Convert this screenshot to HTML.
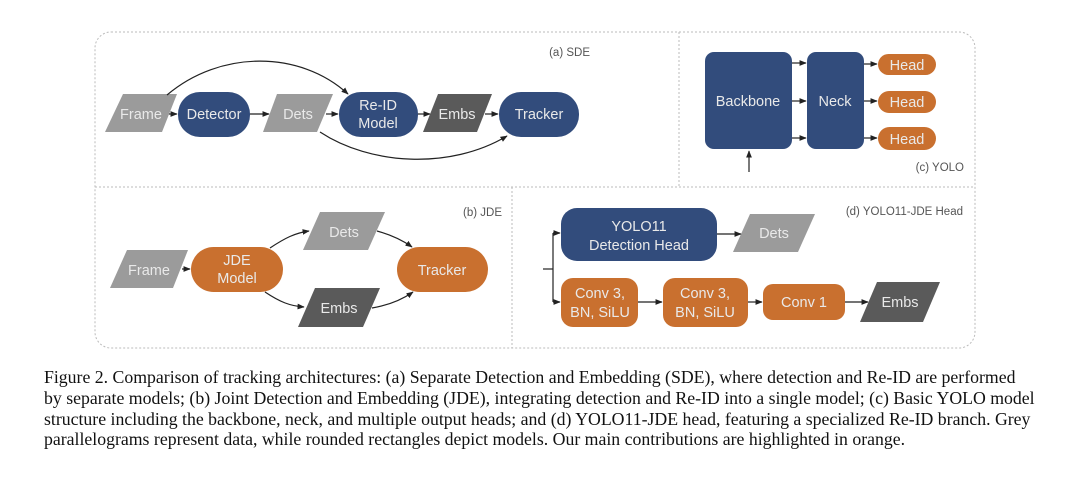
<!DOCTYPE html>
<html><head><meta charset="utf-8"><style>
body{margin:0;background:#fff;width:1080px;height:478px;overflow:hidden;position:relative}
svg{position:absolute;left:0;top:0}
.cap{position:absolute;left:44px;top:367px;width:1040px;font-family:"Liberation Serif",serif;font-size:17.75px;line-height:20.8px;color:#111;white-space:nowrap}
</style></head><body>
<svg width="1080" height="478" viewBox="0 0 1080 478" font-family="Liberation Sans, sans-serif">
<defs><marker id="a" viewBox="0 0 10 10" refX="9" refY="5" markerWidth="6" markerHeight="6" orient="auto"><path d="M0,1 L10,5 L0,9 z" fill="#222"/></marker></defs>
<g fill="none" stroke="#bbb" stroke-width="1" stroke-dasharray="2,2">
<rect x="95" y="32" width="880" height="316" rx="16"/>
<line x1="95" y1="187" x2="975" y2="187"/>
<line x1="679" y1="32" x2="679" y2="187"/>
<line x1="512" y1="187" x2="512" y2="348"/>
</g>
<g font-size="14.5" fill="#e9e9e9" text-anchor="middle">
<polygon points="123,94 177,94 162,132 105,132" fill="#9b9b9b"/><text x="141" y="119">Frame</text>
<rect x="178" y="92" width="72" height="45" rx="22" fill="#324c7c"/><text x="214" y="119">Detector</text>
<polygon points="277,94 333,94 317,132 263,132" fill="#9b9b9b"/><text x="298" y="119">Dets</text>
<rect x="339" y="92" width="79" height="45" rx="22" fill="#324c7c"/><text x="378" y="110">Re-ID</text><text x="378" y="128">Model</text>
<polygon points="438,94 492,94 477,132 423,132" fill="#5a5a5a"/><text x="457" y="119">Embs</text>
<rect x="499" y="92" width="80" height="45" rx="22" fill="#324c7c"/><text x="539" y="119">Tracker</text>
</g>
<g stroke="#222" stroke-width="1.2" fill="none" marker-end="url(#a)">
<line x1="169" y1="114" x2="177" y2="114"/>
<line x1="250" y1="114" x2="269" y2="114"/>
<line x1="326" y1="114" x2="338" y2="114"/>
<line x1="418" y1="114" x2="430" y2="114"/>
<line x1="485" y1="114" x2="498" y2="114"/>
<path d="M167,95 C220,50 300,50 348,94"/>
<path d="M320,132 C370,165 450,170 507,136"/>
</g>
<text x="590" y="56" font-size="11.5" fill="#555" text-anchor="end">(a) SDE</text>
<rect x="705" y="52" width="87" height="97" rx="9" fill="#324c7c"/>
<rect x="807" y="52" width="57" height="97" rx="9" fill="#324c7c"/>
<g fill="#c9702f"><rect x="878" y="54" width="58" height="21" rx="10.5"/><rect x="878" y="91" width="58" height="22" rx="11"/><rect x="878" y="127" width="58" height="23" rx="11.5"/></g>
<g font-size="14.5" fill="#e9e9e9" text-anchor="middle"><text x="748" y="106">Backbone</text><text x="835" y="106">Neck</text>
<text x="907" y="70">Head</text><text x="907" y="107">Head</text><text x="907" y="144">Head</text></g>
<g stroke="#222" stroke-width="1.2" fill="none" marker-end="url(#a)">
<line x1="792" y1="63" x2="806" y2="63"/><line x1="792" y1="101" x2="806" y2="101"/><line x1="792" y1="138" x2="806" y2="138"/>
<line x1="864" y1="64" x2="877" y2="64"/><line x1="864" y1="101" x2="877" y2="101"/><line x1="864" y1="138" x2="877" y2="138"/>
<line x1="749" y1="172" x2="749" y2="151"/>
</g>
<text x="964" y="171" font-size="11.5" fill="#555" text-anchor="end">(c) YOLO</text>
<g font-size="14.5" fill="#e9e9e9" text-anchor="middle">
<polygon points="127,250 188,250 173,288 110,288" fill="#9b9b9b"/><text x="149" y="275">Frame</text>
<rect x="191" y="247" width="92" height="45" rx="22.5" fill="#c9702f"/><text x="237" y="265">JDE</text><text x="237" y="283">Model</text>
<polygon points="320,212 385,212 368,250 303,250" fill="#9b9b9b"/><text x="344" y="237">Dets</text>
<polygon points="315,288 380,288 363,327 298,327" fill="#5a5a5a"/><text x="339" y="313">Embs</text>
<rect x="397" y="247" width="91" height="45" rx="22.5" fill="#c9702f"/><text x="442" y="275">Tracker</text>
</g>
<g stroke="#222" stroke-width="1.2" fill="none" marker-end="url(#a)">
<line x1="182" y1="269" x2="190" y2="269"/>
<path d="M270,248 C285,238 295,233 309,231"/>
<path d="M265,292 C280,302 290,306 304,307"/>
<path d="M377,231 C395,236 405,242 412,247"/>
<path d="M372,308 C390,305 403,299 413,292"/>
</g>
<text x="502" y="216" font-size="11.5" fill="#555" text-anchor="end">(b) JDE</text>
<g font-size="14.5" fill="#e9e9e9" text-anchor="middle">
<rect x="561" y="208" width="156" height="53" rx="16" fill="#324c7c"/><text x="639" y="231">YOLO11</text><text x="639" y="250">Detection Head</text>
<polygon points="750,214 815,214 798,252 733,252" fill="#9b9b9b"/><text x="774" y="238">Dets</text>
<rect x="561" y="278" width="77" height="49" rx="12" fill="#c9702f"/><text x="600" y="298">Conv 3,</text><text x="600" y="317">BN, SiLU</text>
<rect x="663" y="278" width="85" height="49" rx="12" fill="#c9702f"/><text x="705" y="298">Conv 3,</text><text x="705" y="317">BN, SiLU</text>
<rect x="763" y="284" width="82" height="36" rx="10" fill="#c9702f"/><text x="804" y="307">Conv 1</text>
<polygon points="877,282 940,282 923,322 860,322" fill="#5a5a5a"/><text x="900" y="307">Embs</text>
</g>
<g stroke="#222" stroke-width="1.2" fill="none">
<line x1="543" y1="269" x2="553" y2="269"/>
<line x1="553" y1="233" x2="553" y2="302"/>
<g marker-end="url(#a)">
<line x1="553" y1="233" x2="560" y2="233"/>
<line x1="553" y1="302" x2="560" y2="302"/>
<line x1="717" y1="234" x2="741" y2="234"/>
<line x1="638" y1="302" x2="662" y2="302"/>
<line x1="748" y1="302" x2="762" y2="302"/>
<line x1="845" y1="302" x2="868" y2="302"/>
</g></g>
<text x="963" y="215" font-size="11.5" fill="#555" text-anchor="end">(d) YOLO11-JDE Head</text>
</svg>
<div class="cap">Figure 2. Comparison of tracking architectures: (a) Separate Detection and Embedding (SDE), where detection and Re-ID are performed<br>by separate models; (b) Joint Detection and Embedding (JDE), integrating detection and Re-ID into a single model; (c) Basic YOLO model<br>structure including the backbone, neck, and multiple output heads; and (d) YOLO11-JDE head, featuring a specialized Re-ID branch. Grey<br>parallelograms represent data, while rounded rectangles depict models. Our main contributions are highlighted in orange.</div>
</body></html>
